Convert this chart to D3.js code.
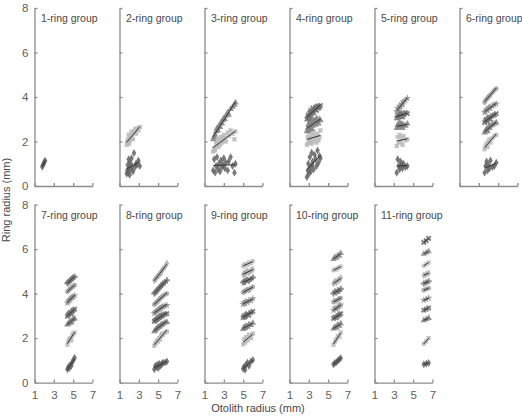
<!DOCTYPE html>
<html><head><meta charset="utf-8">
<script src="https://cdn.jsdelivr.net/npm/d3@7"></script>
<style>body{margin:0;background:#fff;} text{font-family:Arial,"Liberation Sans",Helvetica,sans-serif;}</style>
</head><body><svg id="c" width="522" height="416"></svg>
<script>
// ---- data ----
const groupNames = ["1-ring group","2-ring group","3-ring group","4-ring group","5-ring group","6-ring group","7-ring group","8-ring group","9-ring group","10-ring group","11-ring group"];
const xTicks = [1,3,5,7];
const yTicks = [0,2,4,6,8];

const otolith1 = [1.8,1.88,1.95,2.02,2.1];
const rings1 = [[0.86,0.95,1.0,1.08,1.14]];

const otolith2 = [1.75,1.8,1.85,1.9,1.95,2.0,2.05,2.1,2.2,2.25,2.3,2.4,2.5,2.6,2.7,2.8,2.95,3.1];
const rings2 = [
 [0.55,0.7,0.95,0.6,1.2,0.8,0.5,1.05,0.75,1.25,0.9,0.65,1.48,0.85,1.0,0.95,1.15,0.9],
 [1.85,2.0,1.95,2.1,2.3,1.9,2.05,2.2,2.15,2.45,2.3,2.1,2.4,2.55,2.35,2.6,2.5,2.65]];

const otolith3 = [1.9,2.0,2.1,2.2,2.3,2.4,2.5,2.6,2.7,2.8,2.9,3.0,3.1,3.2,3.4,3.5,3.7,3.9,4.1,4.2];
const rings3 = [
 [0.7,1.2,0.6,0.9,1.3,0.75,1.0,0.65,1.15,0.85,0.95,1.25,0.8,1.05,0.7,1.1,1.3,0.9,0.6,1.0],
 [1.55,1.7,1.6,1.9,2.0,1.75,2.1,1.85,2.2,1.95,2.05,2.3,2.15,2.0,2.4,2.25,2.5,2.35,2.1,2.45],
 [2.1,2.2,2.3,2.45,2.6,2.5,2.7,2.65,2.85,2.8,2.95,3.05,3.0,3.15,3.3,3.2,3.45,3.55,3.65,3.75]];

const otolith4 = [2.8,2.9,2.95,3.0,3.1,3.15,3.2,3.3,3.35,3.4,3.5,3.6,3.7,3.8,3.9,4.0,4.1,4.2];
const rings4 = [
 [0.4,0.7,1.0,0.55,1.3,0.85,0.65,1.5,0.95,1.1,0.75,1.4,1.2,0.9,1.6,1.05,1.35,1.25],
 [1.85,2.2,1.95,2.4,2.05,2.5,2.15,1.9,2.3,2.0,2.45,2.1,2.25,1.95,2.35,2.05,2.2,2.5],
 [2.45,2.6,2.75,2.5,2.9,2.65,2.8,2.55,3.0,2.7,2.85,2.95,2.75,3.05,2.9,2.8,3.0,2.95],
 [3.0,3.1,3.2,3.05,3.3,3.15,3.4,3.25,3.35,3.5,3.3,3.45,3.55,3.4,3.6,3.5,3.55,3.62]];

const otolith5 = [3.3,3.4,3.5,3.6,3.7,3.8,3.9,4.0,4.2,4.4];
const rings5 = [
 [0.6,1.2,0.9,0.75,1.1,0.95,0.8,1.0,0.85,0.9],
 [1.8,2.2,1.95,2.3,2.0,2.15,1.85,2.25,2.05,2.1],
 [2.6,2.75,2.65,2.85,2.7,2.8,2.6,2.75,2.7,2.8],
 [3.05,3.2,3.1,3.3,3.15,3.25,3.1,3.2,3.3,3.25],
 [3.35,3.5,3.45,3.6,3.55,3.7,3.65,3.8,3.85,3.95]];

const otolith6 = [3.6,3.7,3.8,3.9,4.0,4.1,4.2,4.4,4.6,4.8];
const rings6 = [
 [0.6,0.9,1.1,0.7,0.95,0.8,1.15,0.85,0.9,1.05],
 [1.65,1.8,1.9,1.75,2.0,2.1,1.95,2.15,2.25,2.3],
 [2.4,2.5,2.55,2.45,2.65,2.6,2.7,2.75,2.8,2.85],
 [2.85,2.95,3.0,2.9,3.05,3.1,3.0,3.15,3.2,3.25],
 [3.3,3.35,3.45,3.4,3.5,3.55,3.5,3.6,3.65,3.7],
 [3.75,3.85,3.9,3.95,4.0,4.05,4.1,4.2,4.3,4.38]];

const otolith7 = [4.4,4.5,4.6,4.7,4.8,4.9,5.0,5.15];
const rings7 = [
 [0.6,0.7,0.65,0.8,0.75,0.9,1.0,1.12],
 [1.7,1.85,1.95,2.0,1.9,2.1,2.2,2.25],
 [2.6,2.65,2.7,2.75,2.7,2.8,2.85,2.88],
 [2.98,3.05,3.1,3.15,3.1,3.2,3.25,3.3],
 [3.58,3.65,3.7,3.75,3.8,3.85,3.85,3.92],
 [4.08,4.12,4.18,4.22,4.25,4.3,4.32,4.38],
 [4.46,4.5,4.55,4.6,4.62,4.68,4.72,4.76]];

const otolith8 = [4.6,4.7,4.8,4.9,5.0,5.1,5.2,5.3,5.4,5.5,5.7,5.9];
const rings8 = [
 [0.6,0.75,0.7,0.8,0.65,0.85,0.75,0.8,0.85,0.9,0.9,0.95],
 [1.65,1.75,1.8,1.9,1.85,2.0,1.95,2.1,2.2,2.15,2.25,2.3],
 [2.3,2.35,2.4,2.45,2.5,2.5,2.55,2.6,2.6,2.65,2.7,2.72],
 [2.75,2.8,2.82,2.85,2.9,2.92,2.95,3.0,3.0,3.05,3.08,3.1],
 [3.12,3.15,3.2,3.22,3.28,3.3,3.32,3.38,3.4,3.42,3.45,3.48],
 [3.5,3.55,3.6,3.62,3.7,3.72,3.78,3.82,3.85,3.9,3.95,4.0],
 [4.0,4.05,4.1,4.15,4.2,4.25,4.3,4.35,4.4,4.45,4.5,4.6],
 [4.6,4.65,4.7,4.75,4.8,4.85,4.9,4.95,5.05,5.1,5.2,5.35]];

const otolith9 = [5.0,5.1,5.2,5.3,5.45,5.6,5.8,6.0];
const rings9 = [
 [0.62,0.72,0.58,0.8,0.9,0.75,0.95,1.02],
 [1.72,1.95,1.8,2.05,1.9,2.15,2.0,2.2],
 [2.4,2.5,2.45,2.55,2.5,2.62,2.58,2.68],
 [2.92,3.0,2.95,3.05,3.1,3.02,3.15,3.2],
 [3.52,3.6,3.55,3.66,3.6,3.7,3.68,3.78],
 [4.05,4.1,4.08,4.15,4.2,4.14,4.25,4.3],
 [4.5,4.56,4.52,4.6,4.62,4.58,4.66,4.72],
 [4.86,4.92,4.88,4.96,5.0,4.95,5.04,5.08],
 [5.22,5.3,5.26,5.34,5.3,5.4,5.36,5.46]];

const otolith10 = [5.55,5.7,5.85,6.0,6.15,6.3];
const rings10 = [
 [0.82,0.88,0.92,0.98,1.05,1.1],
 [1.7,1.85,1.95,2.1,2.05,2.25],
 [2.42,2.5,2.46,2.6,2.55,2.66],
 [2.88,2.95,2.92,3.0,3.05,3.1],
 [3.25,3.35,3.3,3.38,3.44,3.5],
 [3.62,3.7,3.66,3.72,3.78,3.8],
 [4.0,4.1,4.05,4.15,4.12,4.22],
 [4.45,4.55,4.5,4.6,4.62,4.7],
 [5.05,5.1,5.08,5.15,5.18,5.22],
 [5.55,5.65,5.6,5.72,5.7,5.82]];

const otolith11 = [6.1,6.35,6.6];
const rings11 = [
 [0.82,0.85,0.88],
 [1.75,1.85,2.0],
 [2.8,2.85,2.9],
 [3.25,3.3,3.36],
 [3.7,3.75,3.8],
 [4.15,4.2,4.24],
 [4.45,4.5,4.55],
 [4.82,4.87,4.92],
 [5.25,5.32,5.4],
 [5.78,5.84,5.9],
 [6.3,6.38,6.48]];

const otolithAll = [otolith1,otolith2,otolith3,otolith4,otolith5,otolith6,otolith7,otolith8,otolith9,otolith10,otolith11];
const ringsAll = [rings1,rings2,rings3,rings4,rings5,rings6,rings7,rings8,rings9,rings10,rings11];

// ---- styles per ring index ----
const markerTypes = [d3.symbolDiamond,d3.symbolSquare,d3.symbolTriangle,d3.symbolCross,d3.symbolStar,d3.symbolCircle,d3.symbolCross,d3.symbolDiamond,d3.symbolSquare,d3.symbolTriangle,d3.symbolCross];
const markerRot = [0,0,0,45,0,0,0,0,0,0,45];
const markerFill = ["#606060","#b8b8b8","#808080","#707070","#909090","#a0a0a0","#787878","#acacac","#c0c0c0","#8a8a8a","#6a6a6a"];

// ---- layout ----
const svg = d3.select("#c");
const panelW = 58, panelH = 178;
const colX = d3.scaleLinear().domain([0,5]).range([34.5,459.5]);
const rowY = d3.scaleLinear().domain([0,1]).range([8,204.6]);
const x = d3.scaleLinear().domain([1,7]).range([0,panelW]);
const y = d3.scaleLinear().domain([0,8]).range([panelH,0]);
const axisColor = "#8c8c8c", textColor = "#606060";

groupNames.forEach((name,gi)=>{
  const row = gi<6?0:1, col = gi<6?gi:gi-6;
  const g = svg.append("g").attr("transform",`translate(${colX(col)},${rowY(row)})`);

  const ya = g.append("g").call(d3.axisLeft(y).tickValues(yTicks).tickSize(-3).tickSizeOuter(0).tickPadding(6)
     .tickFormat(col===0?d3.format("d"):()=>""));
  const xa = g.append("g").attr("transform",`translate(0,${panelH})`)
     .call(d3.axisBottom(x).tickValues(xTicks).tickSize(-3).tickSizeOuter(0).tickPadding(8)
     .tickFormat(row===1?d3.format("d"):()=>""));
  [ya,xa].forEach(a=>{
    a.selectAll("path,line").attr("stroke",axisColor).attr("stroke-width",1.3);
    a.selectAll("text").attr("fill",textColor).style("font-size","11.5px").style("font-family","Arial,'Liberation Sans',sans-serif");
  });

  g.append("text").attr("x",6.5).attr("y",14).text(name)
    .attr("fill","#484848").style("font-size","10.5px");

  const ox = otolithAll[gi];
  ringsAll[gi].forEach((ring,ri)=>{
    const pts = ox.map((v,i)=>[v,ring[i]]);
    g.append("g").selectAll("path").data(pts).join("path")
      .attr("d",d3.symbol().type(markerTypes[ri]).size(markerTypes[ri]===d3.symbolCross?20:18))
      .attr("transform",d=>`translate(${x(d[0])},${y(d[1])}) rotate(${markerRot[ri]})`)
      .attr("fill",markerFill[ri]).attr("opacity",0.85);
    // least-squares line
    const mx = d3.mean(pts,d=>d[0]), my = d3.mean(pts,d=>d[1]);
    const sxy = d3.sum(pts,d=>(d[0]-mx)*(d[1]-my)), sxx = d3.sum(pts,d=>(d[0]-mx)**2);
    const b = sxx?sxy/sxx:0, a0 = my-b*mx;
    const [x1,x2] = d3.extent(pts,d=>d[0]);
    g.append("line").attr("x1",x(x1)).attr("x2",x(x2)).attr("y1",y(a0+b*x1)).attr("y2",y(a0+b*x2))
      .attr("stroke","#333").attr("stroke-width",1);
  });
});

svg.append("text").attr("transform","translate(10,200) rotate(-90)").attr("text-anchor","middle")
  .attr("fill","#484848").style("font-size","11px").text("Ring radius (mm)");
svg.append("text").attr("x",258).attr("y",412).attr("text-anchor","middle")
  .attr("fill","#484848").style("font-size","11px").text("Otolith radius (mm)");
</script></body></html>
